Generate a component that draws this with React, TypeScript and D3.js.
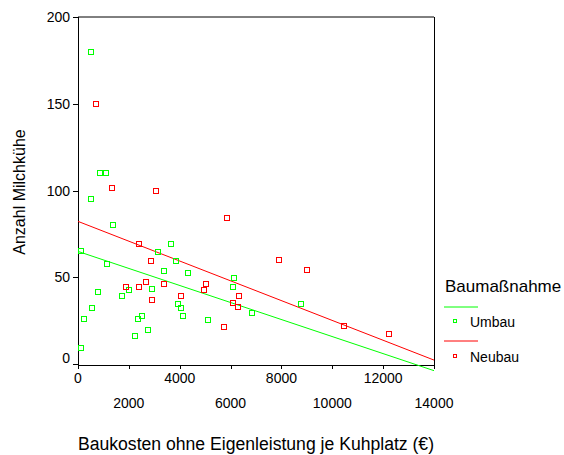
import React from "react";
import * as d3 from "d3";

const groups = ["Umbau", "Neubau"];
const groupColors = ["#00ff00", "#ff0000"];

const umbauCost = [500, 866, 1090, 512, 1366, 118, 1142, 775, 1720, 2022, 250, 538, 118, 2232, 2376, 2507, 2744, 2914, 3163, 3399, 3675, 3859, 3925, 4044, 4123, 4332, 5119, 6131, 6091, 6840, 8782];
const umbauCows = [180, 110, 110, 95, 80, 65, 57.5, 41.5, 39.4, 42.5, 26, 32.3, 9.4, 16.3, 26, 27.5, 19.4, 43.2, 64.5, 53.4, 69.2, 59.5, 34.4, 32.1, 27.5, 52.4, 25.2, 49.6, 44.2, 29.2, 34.4];

const neubauCost = [721, 1326, 3072, 5841, 2415, 2862, 1877, 2389, 2678, 2901, 3399, 4044, 4950, 5029, 5750, 6104, 6288, 6327, 7888, 9018, 10448, 12247];
const neubauCows = [150, 101.6, 99.7, 84.3, 69.2, 59.5, 44.2, 44.2, 47.3, 37.1, 46.3, 39.4, 42.5, 46.3, 21.2, 35.2, 33, 39.4, 60, 54.4, 22.1, 17.3];

// Linear fit lines (intercept, slope) per group
const fitIntercept = [64.9, 82.2];
const fitSlope = [-0.00491, -0.00571];

const xTicks = [0, 2000, 4000, 6000, 8000, 10000, 12000, 14000];
const yTicks = [0, 50, 100, 150, 200];

export default function App() {
  const left = 78, right = 434, top = 17, bottom = 364;
  const x = d3.scaleLinear().domain([0, 14000]).range([left, right]);
  const y = d3.scaleLinear().domain([0, 200]).range([bottom, top]);
  const axisY = 365;
  const font = "Arial, 'Liberation Sans', sans-serif";

  const series = [
    { xs: umbauCost, ys: umbauCows },
    { xs: neubauCost, ys: neubauCows },
  ];

  const fitPath = (i: number) =>
    d3
      .line<number>()
      .x((v) => x(v))
      .y((v) => y(fitIntercept[i] + fitSlope[i] * v))([0, 14000]) as string;

  return (
    <svg width={564} height={455} style={{ position: "absolute", left: 0, top: 0, background: "#fff" }} fontFamily={font}>
      <rect x={0} y={0} width={564} height={455} fill="#fff" />
      {/* frame */}
      <line x1={left} x2={right} y1={17} y2={17} stroke="#000" strokeWidth={1} />
      <line x1={right + 0.5} x2={right + 0.5} y1={17} y2={axisY} stroke="#000" strokeWidth={1} />
      <line x1={left + 0.5} x2={left + 0.5} y1={17} y2={axisY + 0.5} stroke="#000" strokeWidth={1} />
      <line x1={left} x2={right + 1} y1={axisY + 0.5} y2={axisY + 0.5} stroke="#000" strokeWidth={1} />

      {/* y ticks */}
      {yTicks.map((t) => (
        <g key={"y" + t}>
          <line x1={73} x2={78} y1={Math.round(y(t)) + 0.5} y2={Math.round(y(t)) + 0.5} stroke="#000" />
          <text x={70} y={Math.min(y(t) + 5, 363)} textAnchor="end" fontSize={14} fill="#000">{t}</text>
        </g>
      ))}
      {/* x ticks */}
      {xTicks.map((t, i) => (
        <g key={"x" + t}>
          <line x1={Math.round(x(t)) + 0.5} x2={Math.round(x(t)) + 0.5} y1={axisY} y2={axisY + 4} stroke="#000" />
          <text x={x(t)} y={i % 2 === 0 ? 383 : 408} textAnchor="middle" fontSize={14} fill="#000">{t}</text>
        </g>
      ))}

      {/* fit lines */}
      {groups.map((g, i) => (
        <path key={"fit" + g} d={fitPath(i)} stroke={groupColors[i]} strokeWidth={1} fill="none" />
      ))}

      {/* points */}
      {series.map((s, i) =>
        s.xs.map((v, j) => (
          <rect
            key={i + "-" + j}
            x={Math.round(x(v)) - 2.5}
            y={Math.round(y(s.ys[j])) - 2.5}
            width={5}
            height={5}
            fill="none"
            stroke={groupColors[i]}
            strokeWidth={1}
          />
        ))
      )}

      {/* axis titles */}
      <text x={256} y={450} textAnchor="middle" fontSize={17.6} fill="#000">Baukosten ohne Eigenleistung je Kuhplatz (€)</text>
      <text transform="translate(25,192) rotate(-90)" textAnchor="middle" fontSize={16} fill="#000">Anzahl Milchkühe</text>

      {/* legend */}
      <text x={445} y={292} fontSize={17} fill="#000">Baumaßnahme</text>
      {groups.map((g, i) => (
        <g key={"leg" + g}>
          <line x1={444} x2={478} y1={307 + i * 34} y2={307 + i * 34} stroke={groupColors[i]} strokeWidth={1} />
          <rect x={453.5} y={319.5 + i * 35} width={3} height={3} fill="none" stroke={groupColors[i]} strokeWidth={1} />
          <text x={470} y={327 + i * 35} fontSize={14} fill="#000">{g}</text>
        </g>
      ))}
    </svg>
  );
}
